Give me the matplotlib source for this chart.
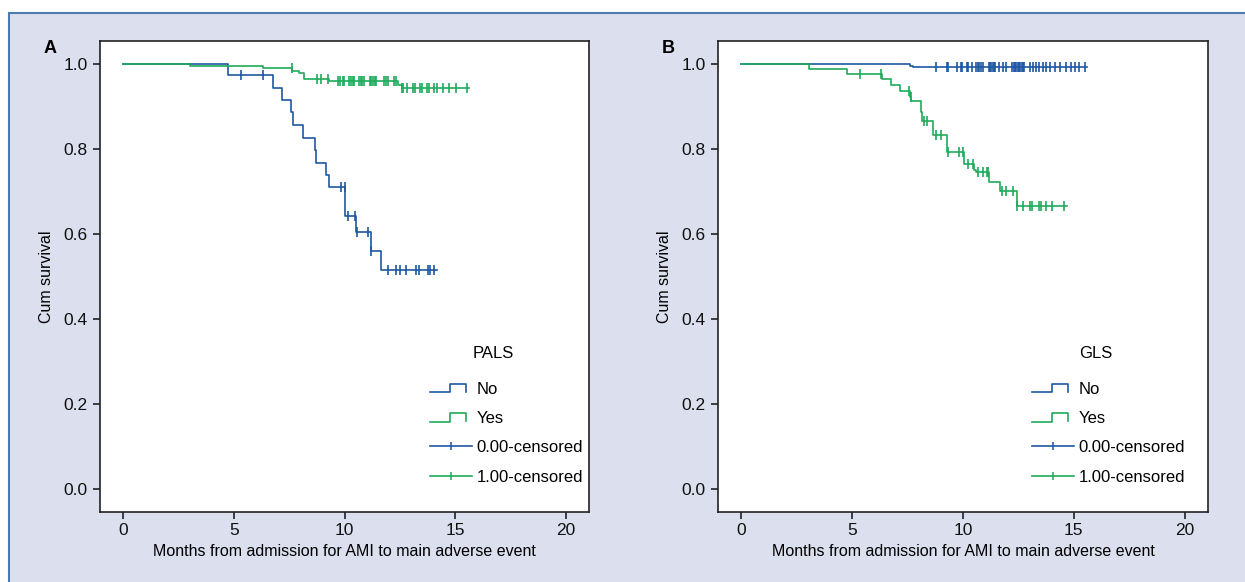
import numpy as np
import matplotlib
matplotlib.use('Agg')
import matplotlib.pyplot as plt
from matplotlib.lines import Line2D
from matplotlib.patches import Rectangle
from matplotlib.legend_handler import HandlerBase

plt.rcParams['font.family'] = ['Liberation Sans', 'DejaVu Sans']

BLUE = '#1f57a3'
GREEN = '#1eab5a'
BG = '#dcdfee'

# Panel A - PALS
a_no_times = [0, 4.75, 6.76, 7.18, 7.60, 7.68, 8.13, 8.66, 8.72, 9.17, 9.28, 10.02, 10.50, 11.18, 11.67]
a_no_surv = [1.0, 0.974, 0.943, 0.915, 0.887, 0.856, 0.826, 0.797, 0.767, 0.739, 0.710, 0.642, 0.605, 0.561, 0.516]
a_no_end = 14.16
a_no_cens = [5.33, 6.30, 9.82, 10.0, 10.14, 10.48, 10.57, 11.06, 11.2, 11.98, 12.32, 12.49,
             12.79, 13.23, 13.36, 13.76, 13.88, 14.04]

a_yes_times = [0, 3.03, 6.30, 7.63, 7.94, 8.15, 9.28, 12.43, 12.58]
a_yes_surv = [1.0, 0.996, 0.991, 0.984, 0.978, 0.964, 0.959, 0.951, 0.943]
a_yes_end = 15.62
a_yes_cens = [7.62, 8.76, 8.96, 9.26, 9.70, 9.80, 9.92, 9.98, 10.21, 10.29, 10.38, 10.45,
              10.65, 10.74, 10.81, 10.89, 11.16, 11.22, 11.30, 11.36, 11.42, 11.80, 11.89,
              11.98, 12.25, 12.34, 12.60, 12.64, 12.84, 13.08, 13.20, 13.39, 13.48, 13.73,
              13.81, 14.04, 14.16, 14.45, 14.72, 15.04, 15.52]

# Panel B - GLS
b_no_times = [0, 7.60, 7.75]
b_no_surv = [1.0, 0.996, 0.992]
b_no_end = 15.6
b_no_cens = [8.78, 9.26, 9.32, 9.71, 9.89, 9.97, 10.17, 10.24, 10.42, 10.59, 10.66, 10.74,
             10.81, 10.89, 11.19, 11.24, 11.28, 11.34, 11.40, 11.46, 11.64, 11.80, 11.95,
             12.22, 12.28, 12.34, 12.40, 12.46, 12.52, 12.58, 12.64, 12.70, 12.76, 13.00,
             13.15, 13.30, 13.45, 13.61, 13.76, 13.91, 14.16, 14.39, 14.65, 14.89, 15.07,
             15.22, 15.52]

b_yes_times = [0, 3.05, 4.77, 6.35, 6.77, 7.16, 7.60, 7.66, 8.11, 8.16, 8.63, 9.26, 10.05,
               10.50, 10.59, 11.19, 11.67, 12.43]
b_yes_surv = [1.0, 0.987, 0.976, 0.965, 0.950, 0.936, 0.922, 0.914, 0.888, 0.865, 0.833,
              0.792, 0.765, 0.751, 0.746, 0.723, 0.702, 0.665]
b_yes_end = 14.69
b_yes_cens = [5.34, 6.29, 7.58, 7.64, 8.24, 8.36, 8.76, 9.03, 9.31, 9.82, 9.98, 10.24, 10.47,
              10.66, 10.89, 11.07, 11.15, 11.75, 11.95, 12.25, 12.45, 12.70, 13.00, 13.11,
              13.45, 13.51, 13.76, 14.01, 14.54]

x_ticks = [0, 5, 10, 15, 20]
y_ticks = [0.0, 0.2, 0.4, 0.6, 0.8, 1.0]
x_label = 'Months from admission for AMI to main adverse event'
y_label = 'Cum survival'

FS = 12


class StepHandler(HandlerBase):
    def create_artists(self, legend, orig_handle, xdescent, ydescent, width, height, fontsize, trans):
        w = width * 0.86
        x = np.array([0, 0.55, 0.55, 1.0, 1.0]) * w - xdescent
        y = np.array([0.1, 0.1, 0.85, 0.85, 0.15]) * height - ydescent
        ln = Line2D(x, y, color=orig_handle.get_color(), lw=orig_handle.get_linewidth())
        ln.set_transform(trans)
        return [ln]


def km(ax, times, surv, end, cens, color):
    t = list(times) + [end]
    s = list(surv) + [surv[-1]]
    ax.step(t, s, where='post', color=color, lw=1.2)
    idx = np.searchsorted(times, cens, side='right') - 1
    ax.plot(cens, np.array(surv)[idx], ls='none', marker='|', ms=7, mew=1.2, color=color)


def panel(ax, letter, title, no, yes, leg_x, title_x):
    km(ax, *no, BLUE)
    km(ax, *yes, GREEN)
    ax.set_xlim(-1.05, 21.05)
    ax.set_ylim(-0.054, 1.054)
    ax.set_xticks(x_ticks)
    ax.set_yticks(y_ticks)
    ax.set_yticklabels(['%.1f' % v for v in y_ticks])
    ax.tick_params(direction='out', length=5, width=1.1, labelsize=12.5, pad=4, colors='#111111')
    ax.tick_params(axis='x', pad=3)
    for sp in ax.spines.values():
        sp.set_linewidth(1.2)
        sp.set_color('#222222')
    ax.set_xlabel(x_label, fontsize=11.5, labelpad=4)
    ax.set_ylabel(y_label, fontsize=11.5, labelpad=7)
    ax.text(-0.115, 0.985, letter, transform=ax.transAxes, fontsize=13, fontweight='bold',
            ha='left', va='center')

    handles = [Line2D([], [], color=BLUE, lw=1.2), Line2D([], [], color=GREEN, lw=1.2),
               Line2D([], [], color=BLUE, lw=1.2, marker='|', ms=6, mew=1.1),
               Line2D([], [], color=GREEN, lw=1.2, marker='|', ms=6, mew=1.1)]
    labels = ['No', 'Yes', '0.00-censored', '1.00-censored']
    ax.legend(handles, labels, handler_map={handles[0]: StepHandler(), handles[1]: StepHandler()},
              loc='upper left', bbox_to_anchor=(leg_x, 0.277), frameon=False, borderpad=0,
              borderaxespad=0, handlelength=2.5, handletextpad=0.3, labelspacing=0.86,
              numpoints=1, fontsize=FS)
    ax.text(title_x, 0.336, title, transform=ax.transAxes, fontsize=FS, ha='left', va='center')


fig = plt.figure(figsize=(12.45, 5.82), dpi=100)
fig.patch.set_facecolor('white')
fig.patches.append(Rectangle((9 / 1245, -0.1), 1.2, (582 - 13) / 582 + 0.1, transform=fig.transFigure,
                             facecolor=BG, edgecolor='#4a7bb3', lw=1.5, zorder=-1))

axA = fig.add_axes([100 / 1245, 70 / 582, 489 / 1245, 471 / 582])
axB = fig.add_axes([718 / 1245, 70 / 582, 490 / 1245, 471 / 582])

panel(axA, 'A', 'PALS', (a_no_times, a_no_surv, a_no_end, a_no_cens),
      (a_yes_times, a_yes_surv, a_yes_end, a_yes_cens), 0.675, 0.763)
panel(axB, 'B', 'GLS', (b_no_times, b_no_surv, b_no_end, b_no_cens),
      (b_yes_times, b_yes_surv, b_yes_end, b_yes_cens), 0.641, 0.737)

fig.savefig('out.png', dpi=100, facecolor=fig.get_facecolor())
